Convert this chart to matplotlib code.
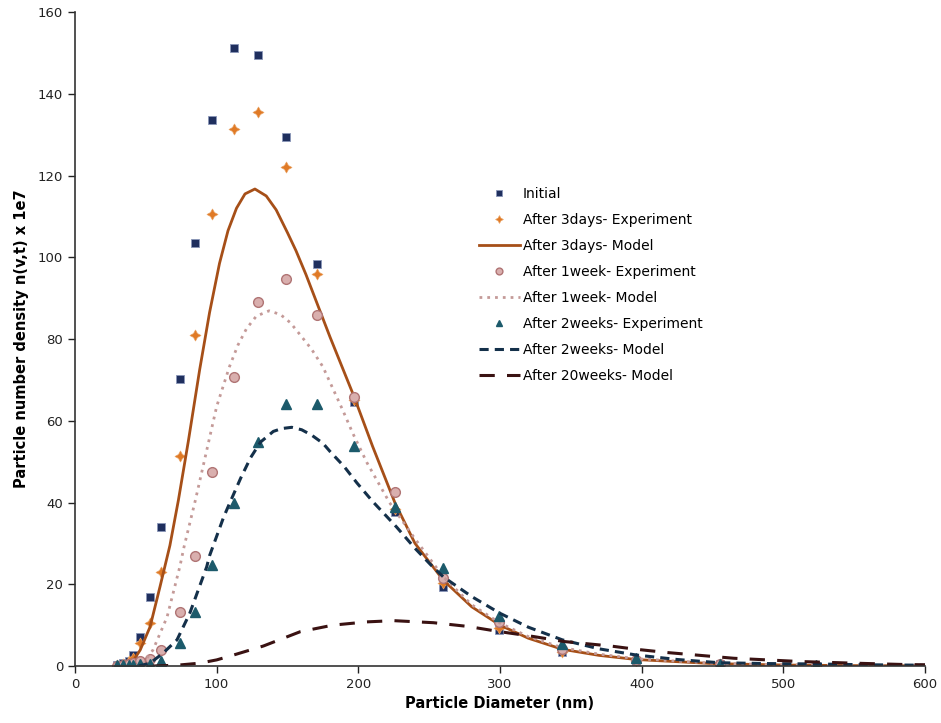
import matplotlib
matplotlib.use("Agg")
import matplotlib.pyplot as plt

# measured bins (nm)
diam = [30, 34, 38, 41, 46, 53, 61, 74, 85, 97, 112, 129, 149, 171, 197, 226, 260, 299, 344, 396, 455, 523]

initial = [0.2, 0.7, 1.3, 2.8, 7.2, 17.0, 33.9, 70.2, 103.4, 133.6, 151.2, 149.5, 129.4, 98.3, 64.7, 37.7, 19.4, 8.8, 3.5, 1.3, 0.4, 0.1]
exp_3days = [0.2, 0.6, 1.2, 1.9, 5.6, 10.6, 23.0, 51.5, 80.9, 110.7, 131.4, 135.6, 122.2, 95.8, 65.0, 38.5, 20.2, 9.2, 3.5, 1.2, 0.4, 0.1]
exp_1week = [0.1, 0.2, 0.4, 0.7, 1.2, 1.8, 3.8, 13.3, 27.0, 47.5, 70.7, 89.0, 94.8, 85.9, 65.8, 42.6, 21.5, 10.8, 4.2, 1.5, 0.5, 0.1]
exp_2weeks = [0.2, 0.2, 0.3, 0.3, 0.4, 0.5, 1.3, 5.7, 13.1, 24.7, 39.9, 54.7, 64.1, 64.0, 53.8, 38.9, 23.9, 12.2, 5.3, 1.9, 0.5, 0.2]

# model curves
m3_x = [35, 40, 46, 53, 60, 67, 73, 80, 88, 95, 102, 108, 114, 120, 127, 135, 142, 150, 156, 163, 170, 180, 197, 210, 226, 240, 260, 280, 300, 320, 344, 370, 396, 450, 500, 550, 600]
m3_y = [0.0, 0.7, 3.9, 9.6, 19.4, 29.5, 40.6, 55.0, 72.5, 86.5, 98.5, 106.5, 112.0, 115.5, 116.7, 115.0, 111.6, 106.0, 101.6, 95.8, 89.5, 80.5, 65.9, 53.8, 39.8, 30.0, 21.0, 14.5, 10.0, 6.8, 4.1, 2.6, 1.6, 0.6, 0.25, 0.1, 0.05]

m1_x = [42, 48, 55, 65, 74, 77, 85, 93, 100, 109, 115, 121, 128, 137, 145, 152, 159, 167, 175, 189, 196, 206, 222, 239, 260, 280, 300, 320, 344, 370, 396, 450, 500, 550, 600]
m1_y = [0.0, 0.7, 3.9, 12.0, 24.3, 29.2, 40.6, 52.8, 63.5, 73.2, 78.5, 82.5, 85.6, 86.9, 86.0, 84.0, 81.0, 77.5, 73.2, 62.6, 57.0, 49.8, 40.0, 31.6, 21.8, 15.0, 10.5, 7.2, 4.5, 2.9, 1.8, 0.7, 0.3, 0.12, 0.05]

m2_x = [45, 53, 62, 72, 81, 93, 95, 105, 110, 117, 124, 131, 140, 146, 153, 160, 167, 175, 180, 190, 199, 210, 227, 240, 251, 260, 280, 300, 320, 344, 370, 396, 425, 455, 490, 524, 560, 600]
m2_y = [0.0, 0.7, 3.1, 6.4, 12.9, 24.3, 27.0, 36.5, 40.5, 46.0, 51.0, 54.8, 57.4, 58.1, 58.4, 57.8, 56.5, 54.5, 52.5, 48.8, 44.8, 40.3, 34.0, 28.8, 24.8, 21.8, 17.0, 12.9, 9.5, 6.4, 4.2, 2.7, 1.6, 0.8, 0.6, 0.5, 0.3, 0.2]

m20_x = [55, 72, 88, 100, 112, 133, 159, 182, 206, 225, 253, 277, 300, 324, 345, 378, 396, 418, 465, 512, 550, 582, 600]
m20_y = [0.0, 0.2, 0.7, 1.5, 2.7, 4.9, 8.4, 10.0, 10.8, 11.1, 10.6, 9.7, 8.4, 7.2, 6.0, 4.9, 4.1, 3.3, 1.9, 1.1, 0.7, 0.4, 0.3]

fig = plt.figure(figsize=(9.41, 7.23), dpi=100)
ax = fig.add_axes([0.0797, 0.0788, 0.9033, 0.9046])

star4 = (4, 1, 0)

ax.plot(diam, initial, linestyle="none", marker="s", markersize=6,
        markerfacecolor="#1F2F5E", markeredgecolor="#8A96B8", markeredgewidth=0.6, label="Initial")
ax.plot(diam, exp_3days, linestyle="none", marker=star4, markersize=8,
        markerfacecolor="#E07A26", markeredgecolor="#E9A060", markeredgewidth=0.5, label="After 3days- Experiment")
ax.plot(m3_x, m3_y, color="#A64F18", linewidth=2.0, label="After 3days- Model")
ax.plot(diam, exp_1week, linestyle="none", marker="o", markersize=7,
        markerfacecolor="#D9AFAE", markeredgecolor="#B07474", markeredgewidth=1.0, label="After 1week- Experiment")
ax.plot(m1_x, m1_y, color="#C49A98", linewidth=2.0, linestyle=(0, (1, 1.8)), label="After 1week- Model")
ax.plot(diam, exp_2weeks, linestyle="none", marker="^", markersize=7,
        markerfacecolor="#1C5A6B", markeredgecolor="#1C5A6B", label="After 2weeks- Experiment")
ax.plot(m2_x, m2_y, color="#14304A", linewidth=2.2, linestyle=(0, (3, 2)), label="After 2weeks- Model")
ax.plot(m20_x, m20_y, color="#3A1212", linewidth=2.2, linestyle=(0, (5, 4)), label="After 20weeks- Model")

ax.set_xlim(0, 600)
ax.set_ylim(0, 160)
ax.set_xticks(range(0, 601, 100))
ax.set_yticks(range(0, 161, 20))
ax.tick_params(axis="both", labelsize=9.5, colors="#222222", length=5, width=1)
ax.spines["top"].set_visible(False)
ax.spines["right"].set_visible(False)
for s in ("left", "bottom"):
    ax.spines[s].set_color("#333333")
    ax.spines[s].set_linewidth(1.2)

ax.set_xlabel("Particle Diameter (nm)", fontsize=10.5, fontweight="bold", labelpad=4)
ax.set_ylabel("Particle number density n(v,t) x 1e7", fontsize=10.5, fontweight="bold", labelpad=6)

ax.legend(loc="upper left", bbox_to_anchor=(0.46, 0.752), frameon=False, fontsize=10,
          handlelength=3.0, handletextpad=0.2, labelspacing=0.87, markerscale=0.7)

fig.savefig("out.png", dpi=100)
